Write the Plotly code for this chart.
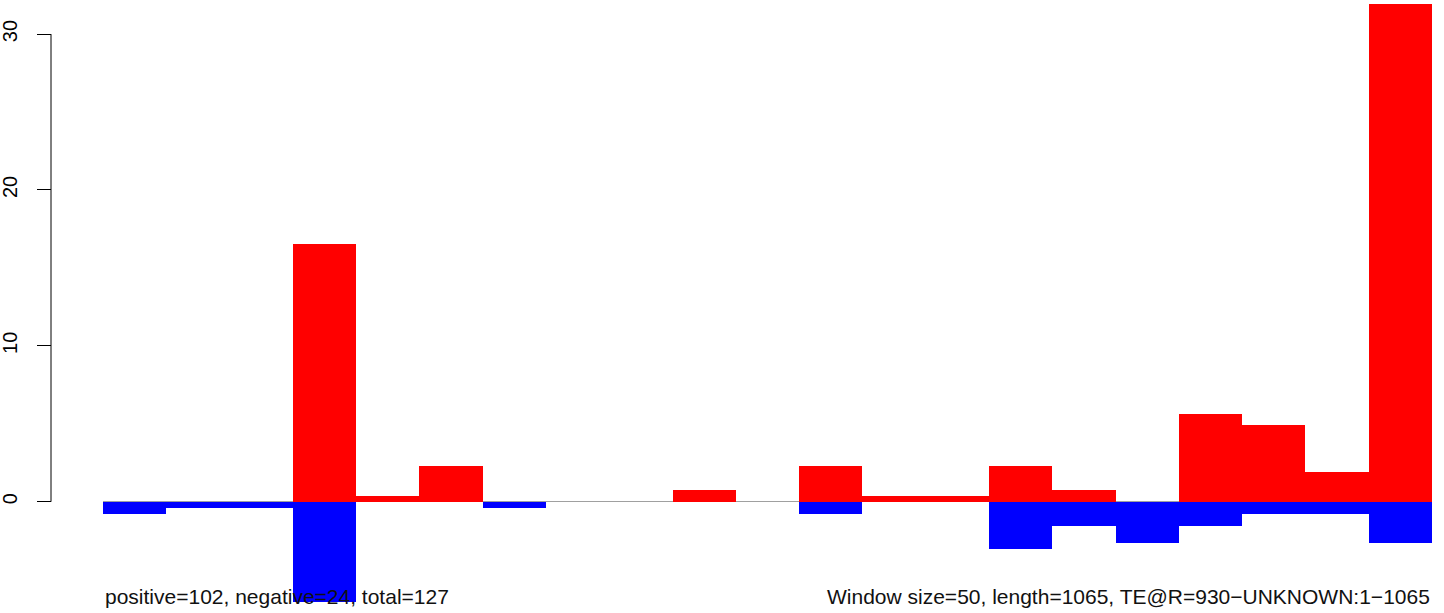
import plotly.graph_objects as go

# window index along the TE (window size 50, length 1065)
windows = list(range(1, 22))

positive = [0, 0, 0, 16.53, 0.37, 2.28, 0, 0, 0, 0.74, 0, 2.28, 0.37, 0.37,
            2.28, 0.74, 0, 5.62, 4.91, 1.91, 31.93]
negative = [-0.78, -0.40, -0.40, -6.43, 0, 0, -0.40, 0, 0, 0, 0, -0.78, 0, 0,
            -3.05, -1.57, -2.66, -1.57, -0.80, -0.80, -2.66]

y_ticks = [0, 10, 20, 30]
left_text = "positive=102, negative=24, total=127"
right_text = "Window size=50, length=1065, TE@R=930\u2212UNKNOWN:1\u22121065"

font = "Liberation Sans, Arial, Helvetica, sans-serif"

fig = go.Figure()
fig.add_trace(go.Bar(x=windows, y=positive, width=1, marker=dict(color="#ff0000", line=dict(width=0)),
                     showlegend=False))
fig.add_trace(go.Bar(x=windows, y=negative, width=1, marker=dict(color="#0000ff", line=dict(width=0)),
                     showlegend=False))

fig.update_layout(
    width=1444, height=613,
    margin=dict(l=51, r=12, t=4, b=11, autoexpand=False),
    paper_bgcolor="white", plot_bgcolor="white",
    barmode="overlay", bargap=0,
    font=dict(family=font, size=20, color="black"),
    xaxis=dict(domain=[0.0377, 1], range=[0.5, 21.5], visible=False, showgrid=False, zeroline=False),
    yaxis=dict(anchor="free", position=0, range=[min(negative), max(positive)], automargin=False,
               tickvals=y_ticks, ticktext=[str(v) for v in y_ticks],
               ticks="outside", ticklen=14, tickwidth=1, tickcolor="black",
               tickangle=-90, ticklabelstandoff=12, showgrid=False, showline=False,
               zeroline=True, zerolinecolor="#a0a0a0", zerolinewidth=1,
               tickfont=dict(family=font, size=20, color="black")),
)

# R style axis line only spans the tick range
fig.add_shape(type="line", xref="paper", yref="y", x0=0, x1=0, y0=min(y_ticks), y1=max(y_ticks),
              line=dict(color="black", width=1))

fig.add_annotation(text=left_text, xref="x domain", yref="paper", x=0, y=0, xanchor="left",
                   yanchor="middle", yshift=6, showarrow=False, font=dict(family=font, size=21, color="#111111"))
fig.add_annotation(text=right_text, xref="x domain", yref="paper", x=1, y=0, xanchor="right",
                   yanchor="middle", yshift=6, showarrow=False, font=dict(family=font, size=21, color="#111111"))

# page has no body margin, so the figure sits at the window corner
fig.write_html("out.html", config={"displayModeBar": False},
               post_script="document.body.style.margin='0';")
